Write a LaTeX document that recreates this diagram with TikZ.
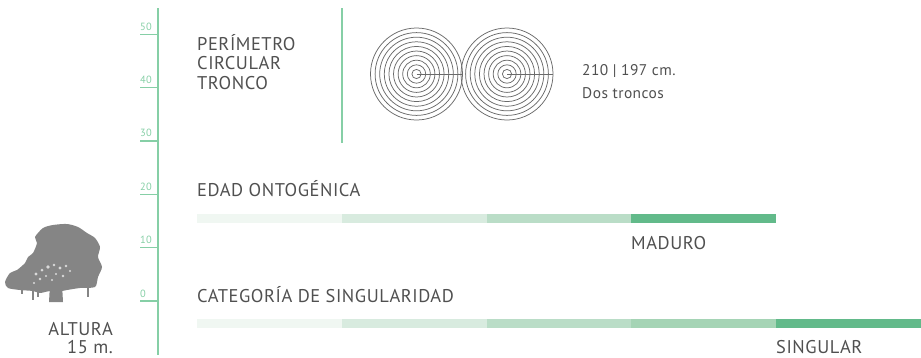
\documentclass[tikz,border=0pt]{standalone}
\usepackage{fontspec}
\setmainfont{PT Sans}[LetterSpace=3]
\usetikzlibrary{positioning}
\definecolor{verdeeje}{HTML}{86CFA6}
\definecolor{gristexto}{HTML}{505050}
\definecolor{grisanillo}{HTML}{6A6A6A}
\definecolor{grisarbol}{HTML}{858585}
\definecolor{nivelA}{HTML}{F0F7F2}
\definecolor{nivelB}{HTML}{D8EBDF}
\definecolor{nivelC}{HTML}{BADDC7}
\definecolor{nivelD}{HTML}{A5D4B5}
\definecolor{nivelE}{HTML}{62BA8A}
\begin{document}
\begin{tikzpicture}[x=1bp, y=-1bp,
  texto/.style={font=\fontsize{18.5}{19.5}\selectfont, text=gristexto, inner sep=0pt, anchor=base west},
  marca/.style={font=\fontsize{10.5}{11}\selectfont, text=verdeeje, inner sep=0pt, anchor=base west},
  eje/.style={draw=verdeeje, line width=1.1bp},
  tramo/.style={minimum width=145bp, minimum height=9bp, inner sep=0pt, outer sep=0pt, anchor=north west},
  anillo/.style={draw=grisanillo, line width=0.75bp}]
\useasboundingbox (0,0) rectangle (921,357);

% Escala de altura
\coordinate (ejeA) at (158,8);
\coordinate (ejeB) at (158,355);
\draw[eje] (ejeA) -- (ejeB);
\foreach \k in {0,...,5} {
  \pgfmathtruncatemacro\v{10*\k}
  \draw[eje] (140,{301-53.35*\k}) -- (158,{301-53.35*\k});
  \node[marca] (m\k) at (140,{297-53.35*\k}) {\v};
}

% Arbol
\fill[grisarbol] plot[smooth cycle, tension=0.45] coordinates {
  (43,228) (53,225) (67,224) (78,227) (87,233) (95,238) (100,247) (98,257)
  (102,267) (98,277) (95,287) (80,288) (67,290) (62,291) (50,291) (40,293)
  (33,291) (20,290) (8,288) (5,282) (10,273) (17,270) (25,263) (28,257)
  (33,253) (37,243) (35,237)};
\fill[grisarbol] (50,284) -- (62,284) -- (63,302) -- (49,302) -- cycle;
\fill[white!70!grisarbol] (36,274) circle (1.6) (42,270) circle (1.5) (48,267) circle (1.8)
  (54,265) circle (1.4) (60,268) circle (1.6) (66,266) circle (1.3) (40,279) circle (1.3)
  (46,276) circle (1.2) (56,274) circle (1.2) (63,276) circle (1.4) (70,271) circle (1.2)
  (34,283) circle (1.1) (52,280) circle (1.1);
\draw[grisarbol, line width=1.2bp] (33,290) -- (33,300) (38,291) -- (38,297)
  (88,287) -- (88,297) (22,289) -- (22,294);
\node[texto, anchor=base east] (altura) at (113,335) {ALTURA};
\node[texto, anchor=base east] (alturav) at (113,353.5) {15 m.};

% Perimetro
\node[texto, align=left, anchor=base west] (perim) at (197,89) {PERÍMETRO\\CIRCULAR\\TRONCO};
\coordinate (divA) at (342,8);
\coordinate (divB) at (342,143);
\draw[eje] (divA) -- (divB);
\coordinate (t1) at (416.5,74);
\coordinate (t2) at (507,74);
\foreach \r in {1,...,10} {
  \draw[anillo] (t1) circle ({4.6*\r});
  \draw[anillo] (t2) circle ({4.6*\r});
}
\draw[anillo] (t1) -- ++(46,0);
\draw[anillo] (t2) -- ++(46,0);
\node[texto, font=\fontsize{15.5}{17}\selectfont] (medida) at (582,75) {210 | 197 cm.};
\node[texto, font=\fontsize{15.5}{17}\selectfont] (troncos) at (582,98) {Dos troncos};

% Edad ontogenica
\node[texto] (edad) at (197,196) {EDAD ONTOGÉNICA};
\node[tramo, fill=nivelA] (e1) at (197,214) {};
\node[tramo, fill=nivelB] (e2) at (342,214) {};
\node[tramo, fill=nivelC] (e3) at (487,214) {};
\node[tramo, fill=nivelE] (e4) at (631,214) {};
\node[texto] (maduro) at (631,249) {MADURO};

% Categoria de singularidad
\node[texto] (categ) at (197,302) {CATEGORÍA DE SINGULARIDAD};
\node[tramo, fill=nivelA] (s1) at (197,319) {};
\node[tramo, fill=nivelB] (s2) at (342,319) {};
\node[tramo, fill=nivelC] (s3) at (487,319) {};
\node[tramo, fill=nivelD] (s4) at (631,319) {};
\node[tramo, fill=nivelE] (s5) at (776,319) {};
\node[texto] (singular) at (776,353.5) {SINGULAR};
\end{tikzpicture}
\end{document}
